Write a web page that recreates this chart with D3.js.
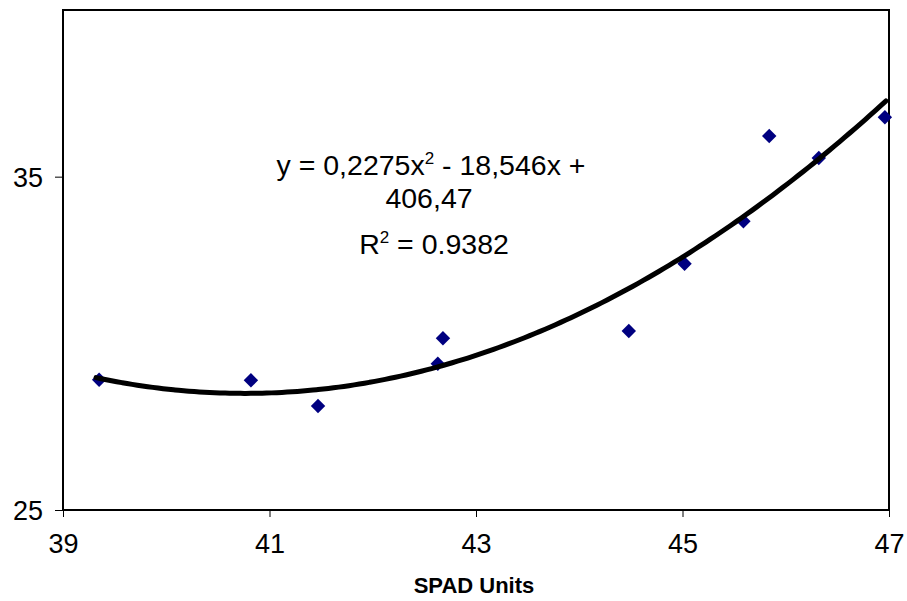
<!DOCTYPE html>
<html>
<head>
<meta charset="utf-8">
<script src="https://cdn.jsdelivr.net/npm/d3@7"></script>
<style>
    body { margin: 0; background: #fff; }
    svg { display: block; font-family: "Liberation Sans", Arial, sans-serif; }
</style>
</head>
<body>
<svg id="chart"></svg>
<script>
    // SPAD readings (x) and measured values (y)
    var spad = [39.35, 40.82, 41.47, 42.63, 42.68, 44.48, 45.02, 45.59, 45.84, 46.32, 46.96];
    var measured = [28.91, 28.89, 28.12, 29.39, 30.15, 30.37, 32.39, 33.66, 36.22, 35.56, 36.78];

    // Polynomial trendline coefficients: a*x^2 + b*x + c
    var trendCoef = [0.2275, -18.546, 406.47];
    var trendLabel = ["y = 0,2275x", "2", " - 18,546x +", "406,47"];
    var r2Label = ["R", "2", " = 0.9382"];

    var xTicks = [39, 41, 43, 45, 47];
    var yTicks = [25, 35];

    var width = 907,
        height = 601,
        margin = { top: 10, right: 18, bottom: 91, left: 63 },
        plotW = width - margin.left - margin.right,
        plotH = height - margin.top - margin.bottom;

    var svg = d3.select("#chart")
        .attr("width", width)
        .attr("height", height);

    var g = svg.append("g")
        .attr("transform", "translate(" + margin.left + "," + margin.top + ")");

    var x = d3.scaleLinear().domain([39, 47]).range([0, plotW]);
    var y = d3.scaleLinear().domain([25, 40]).range([plotH, 0]);

    // Plot frame
    g.append("rect")
        .attr("width", plotW)
        .attr("height", plotH)
        .attr("fill", "none")
        .attr("stroke", "#000")
        .attr("stroke-width", 2);

    // Axes
    var xAxis = g.append("g")
        .attr("transform", "translate(0," + plotH + ")")
        .call(d3.axisBottom(x).tickValues(xTicks).tickSize(7).tickPadding(17).tickFormat(d3.format("d")));

    var yAxis = g.append("g")
        .call(d3.axisLeft(y).tickValues(yTicks).tickSize(8).tickPadding(12).tickFormat(d3.format("d")));

    [xAxis, yAxis].forEach(function (a) {
        a.select(".domain").remove();
        a.selectAll("line").attr("stroke", "#000").attr("stroke-width", 1);
        a.selectAll("text")
            .attr("fill", "#000")
            .style("font-size", "27px")
            .style("font-family", "'Liberation Sans', Arial, sans-serif");
    });
    yAxis.selectAll("text").attr("dy", "0.35em");

    // Axis title
    svg.append("text")
        .attr("x", margin.left + x(43) - 2)
        .attr("y", 593)
        .attr("text-anchor", "middle")
        .style("font-size", "22px")
        .style("font-weight", "bold")
        .text("SPAD Units");

    // Trendline from min to max x
    var trend = function (v) {
        return trendCoef[0] * v * v + trendCoef[1] * v + trendCoef[2];
    };
    var xs = d3.range(d3.min(spad) - 0.03, d3.max(spad) + 0.05, 0.05);
    var line = d3.line()
        .x(function (d) { return x(d); })
        .y(function (d) { return y(trend(d)); })
        .curve(d3.curveMonotoneX);

    // Points
    var sym = d3.symbol().type(d3.symbolSquare).size(104);
    g.selectAll(".pt")
        .data(d3.zip(spad, measured))
        .enter().append("path")
        .attr("class", "pt")
        .attr("d", sym)
        .attr("fill", "#000080")
        .attr("transform", function (d) {
            return "translate(" + x(d[0]) + "," + y(d[1]) + ") rotate(45)";
        });

    g.append("path")
        .datum(xs)
        .attr("d", line)
        .attr("fill", "none")
        .attr("stroke", "#000")
        .attr("stroke-width", 5)
        .attr("stroke-linecap", "round");

    // Equation label
    var eq = svg.append("text")
        .attr("text-anchor", "middle")
        .style("font-size", "28.5px");

    var l1 = eq.append("tspan").attr("x", 431).attr("y", 175);
    l1.append("tspan").text(trendLabel[0]);
    l1.append("tspan").attr("dy", -11).style("font-size", "17px").text(trendLabel[1]);
    l1.append("tspan").attr("dy", 11).text(trendLabel[2]);

    eq.append("tspan").attr("x", 429).attr("y", 208).text(trendLabel[3]);

    var r2 = svg.append("text")
        .attr("text-anchor", "middle")
        .attr("x", 434)
        .attr("y", 254)
        .style("font-size", "28.5px");
    r2.append("tspan").text(r2Label[0]);
    r2.append("tspan").attr("dy", -11).style("font-size", "17px").text(r2Label[1]);
    r2.append("tspan").attr("dy", 11).text(r2Label[2]);
</script>
</body>
</html>
